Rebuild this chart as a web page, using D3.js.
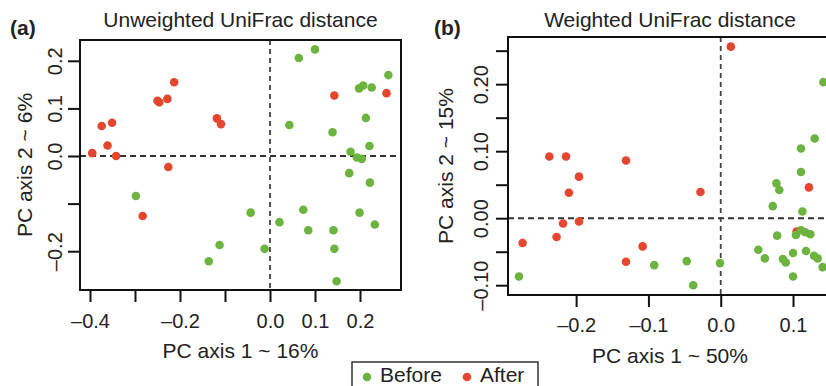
<!DOCTYPE html>
<html lang="en">
<head>
<meta charset="utf-8">
<title>UniFrac PCoA</title>
<script src="https://d3js.org/d3.v7.js"></script>
<style>
  body { margin: 0; background: #fff; }
  text { font-family: "Liberation Sans", Arial, Helvetica, sans-serif; fill: #222; }
</style>
</head>
<body>
<div id="chart"></div>
<script>

// ---- data: [PC1, PC2] ----
const unwBefore = [
  [0.064, 0.206], [0.100, 0.224], [0.263, 0.170], [0.198, 0.142], [0.207, 0.148],
  [0.226, 0.144], [0.213, 0.080], [0.043, 0.065], [0.139, 0.050], [0.221, 0.021],
  [0.179, 0.009], [0.193, -0.003], [0.204, -0.006], [0.176, -0.036], [0.222, -0.056],
  [-0.298, -0.084], [-0.043, -0.119], [0.074, -0.113], [0.021, -0.139], [0.199, -0.119],
  [0.233, -0.144], [0.085, -0.156], [0.141, -0.156], [-0.112, -0.187], [-0.012, -0.195],
  [0.143, -0.195], [-0.136, -0.221], [0.148, -0.263]
];
const unwAfter = [
  [-0.395, 0.006], [-0.374, 0.063], [-0.351, 0.070], [-0.361, 0.022], [-0.342, 0.000],
  [-0.250, 0.116], [-0.246, 0.113], [-0.228, 0.120], [-0.213, 0.155], [-0.226, -0.023],
  [-0.118, 0.079], [-0.109, 0.067], [0.143, 0.127], [0.259, 0.132], [-0.283, -0.126]
];
const wBefore = [
  [0.142, 0.203], [0.130, 0.119], [0.111, 0.104], [0.111, 0.069], [0.077, 0.052],
  [0.081, 0.042], [0.072, 0.018], [0.113, 0.010], [0.078, -0.026], [0.104, -0.025],
  [0.111, -0.018], [0.117, -0.021], [0.124, -0.024], [0.052, -0.047], [0.061, -0.060],
  [0.086, -0.061], [0.090, -0.066], [0.100, -0.052], [0.118, -0.049], [0.129, -0.056],
  [0.134, -0.060], [0.141, -0.073], [0.100, -0.087], [-0.047, -0.064], [-0.092, -0.070],
  [-0.038, -0.100], [-0.001, -0.067], [-0.279, -0.087]
];
const wAfter = [
  [0.014, 0.256], [-0.237, 0.092], [-0.214, 0.092], [-0.131, 0.086], [-0.196, 0.062],
  [-0.210, 0.038], [-0.028, 0.039], [0.122, 0.046], [-0.218, -0.008], [-0.196, -0.005],
  [-0.227, -0.028], [-0.274, -0.037], [-0.108, -0.042], [-0.131, -0.065], [0.105, -0.020]
];

// ticks
const aXTicks = [-0.4, -0.3, -0.2, -0.1, 0, 0.1, 0.2];
const aXLabels = ["–0.4", "", "–0.2", "", "0.0", "0.1", "0.2"];
const aYTicks = [0.2, 0.1, 0, -0.1, -0.2];
const aYLabels = ["0.2", "0.1", "0.0", "", "–0.2"];
const bXTicks = [-0.2, -0.1, 0, 0.1];
const bXLabels = ["–0.2", "–0.1", "0.0", "0.1"];
const bYTicks = [0.25, 0.2, 0.15, 0.1, 0.05, 0, -0.05, -0.1];
const bYLabels = ["", "0.20", "", "0.10", "", "0.00", "", "–0.10"];

const green = "#6cb33f", red = "#e4462f";

const svg = d3.select("#chart").append("svg")
  .attr("width", 826).attr("height", 386);

function panel(o) {
  const x = d3.scaleLinear().domain(o.xDom).range([o.left, o.right]);
  const y = d3.scaleLinear().domain(o.yDom).range([o.bottom, o.top]);
  const g = svg.append("g");

  // dashed zero lines
  g.append("line")
    .attr("x1", o.left).attr("x2", o.right)
    .attr("y1", y(0)).attr("y2", y(0))
    .attr("stroke", "#333").attr("stroke-width", 2).attr("stroke-dasharray", "6,4");
  g.append("line")
    .attr("x1", x(0)).attr("x2", x(0))
    .attr("y1", o.top).attr("y2", o.bottom)
    .attr("stroke", "#444").attr("stroke-width", 1.8).attr("stroke-dasharray", "5,4");

  // points (After under Before, as in the figure)
  g.selectAll(".a").data(o.after).enter().append("circle")
    .attr("cx", d => x(d[0])).attr("cy", d => y(d[1])).attr("r", 4.3)
    .attr("fill", red);
  g.selectAll(".b").data(o.before).enter().append("circle")
    .attr("cx", d => x(d[0])).attr("cy", d => y(d[1])).attr("r", 4.3)
    .attr("fill", green);

  // frame
  g.append("rect")
    .attr("x", o.left).attr("y", o.top)
    .attr("width", o.right - o.left).attr("height", o.bottom - o.top)
    .attr("fill", "none").attr("stroke", "#111").attr("stroke-width", 2);

  // x axis
  const xa = g.append("g").attr("transform", `translate(0,${o.bottom})`)
    .call(d3.axisBottom(x).tickValues(o.xTicks)
      .tickFormat((d, i) => o.xLabels[i]).tickSize(12).tickPadding(4));
  xa.select(".domain").remove();
  xa.selectAll("line").attr("stroke", "#111").attr("stroke-width", 2);
  xa.selectAll("text").attr("font-size", 20).attr("fill", "#222")
    .attr("y", o.xLabY - o.bottom).attr("dy", 0);

  // y axis
  const ya = g.append("g").attr("transform", `translate(${o.left},0)`)
    .call(d3.axisLeft(y).tickValues(o.yTicks)
      .tickFormat((d, i) => o.yLabels[i]).tickSize(12));
  ya.select(".domain").remove();
  ya.selectAll("line").attr("stroke", "#111").attr("stroke-width", 2);
  ya.selectAll("text").attr("font-size", 20).attr("fill", "#222")
    .attr("x", null).attr("dy", 0).attr("text-anchor", "middle")
    .attr("transform", `translate(${o.yLabX - o.left},0) rotate(-90)`);

  // titles
  svg.append("text").attr("x", (o.left + o.right) / 2).attr("y", 27)
    .attr("text-anchor", "middle").attr("font-size", 21).text(o.title);
  svg.append("text").attr("x", o.tagX).attr("y", 35)
    .attr("font-size", 21).attr("font-weight", "bold").text(o.tag);
  svg.append("text").attr("x", (o.left + o.right) / 2).attr("y", o.xTitleY)
    .attr("text-anchor", "middle").attr("font-size", 21).text(o.xTitle);
  svg.append("text")
    .attr("transform", `translate(${o.yTitleX},${(o.top + o.bottom) / 2}) rotate(-90)`)
    .attr("text-anchor", "middle").attr("font-size", 21).text(o.yTitle);
}

panel({
  left: 80, right: 401, top: 40, bottom: 290,
  xDom: [-0.4222, 0.2911], yDom: [-0.2815, 0.2437],
  xTicks: aXTicks, xLabels: aXLabels, yTicks: aYTicks, yLabels: aYLabels,
  before: unwBefore, after: unwAfter,
  xLabY: 328, yLabX: 62, xTitleY: 358, yTitleX: 32, tagX: 10,
  title: "Unweighted UniFrac distance", tag: "(a)",
  xTitle: "PC axis 1 ~ 16%", yTitle: "PC axis 2 ~ 6%"
});

panel({
  left: 508, right: 832, top: 37, bottom: 295,
  xDom: [-0.2942, 0.1539], yDom: [-0.1146, 0.2704],
  xTicks: bXTicks, xLabels: bXLabels, yTicks: bYTicks, yLabels: bYLabels,
  before: wBefore, after: wAfter,
  xLabY: 332, yLabX: 488, xTitleY: 363, yTitleX: 453, tagX: 434,
  title: "Weighted UniFrac distance", tag: "(b)",
  xTitle: "PC axis 1 ~ 50%", yTitle: "PC axis 2 ~ 15%"
});

// legend
const leg = svg.append("g");
leg.append("rect").attr("x", 352).attr("y", 362).attr("width", 186).attr("height", 40)
  .attr("fill", "none").attr("stroke", "#333").attr("stroke-width", 1.5);
const legItems = [["Before", green, 367], ["After", red, 467]];
legItems.forEach(d => {
  leg.append("circle").attr("cx", d[2]).attr("cy", 377).attr("r", 4.3).attr("fill", d[1]);
  leg.append("text").attr("x", d[2] + 13).attr("y", 382).attr("font-size", 21).text(d[0]);
});
</script>
</body>
</html>
